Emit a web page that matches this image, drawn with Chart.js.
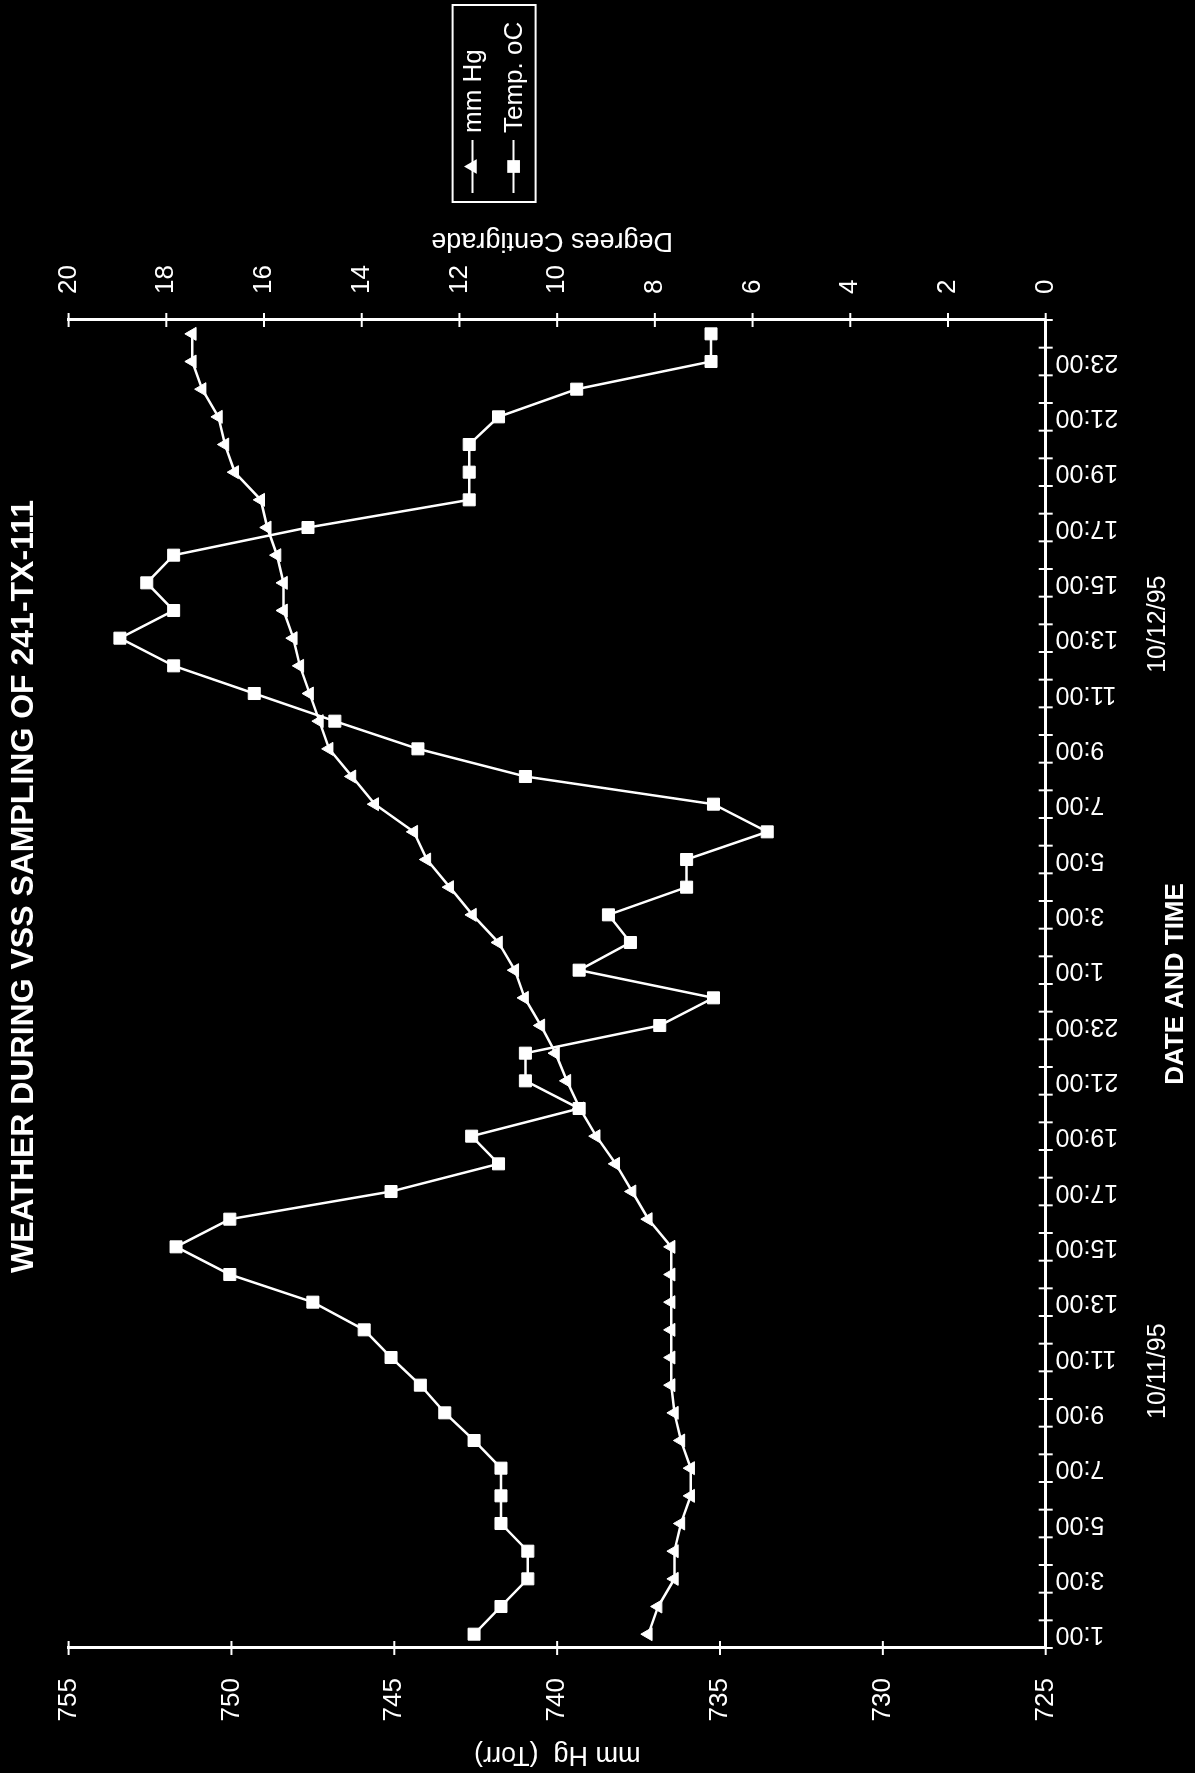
<!DOCTYPE html>
<html>
<head>
<meta charset="utf-8">
<script src="https://cdn.jsdelivr.net/npm/chart.js@4.4.0/dist/chart.umd.min.js"></script>
<style>
html, body { margin:0; padding:0; background:#000; width:1195px; height:1773px; overflow:hidden; }
#wrap { position:absolute; left:0; top:0; width:1773px; height:1195px; transform-origin:0 0; transform:translate(0px,1773px) rotate(-90deg); }
canvas { display:block; }
</style>
</head>
<body>
<div id="wrap"><canvas id="c" width="1773" height="1195"></canvas></div>
<script>
// ---- data ----
const timeLabels = [
  '1:00','2:00','3:00','4:00','5:00','6:00','7:00','8:00','9:00','10:00','11:00','12:00',
  '13:00','14:00','15:00','16:00','17:00','18:00','19:00','20:00','21:00','22:00','23:00','24:00',
  '1:00','2:00','3:00','4:00','5:00','6:00','7:00','8:00','9:00','10:00','11:00','12:00',
  '13:00','14:00','15:00','16:00','17:00','18:00','19:00','20:00','21:00','22:00','23:00','24:00'
];
const dateLabels = ['10/11/95', '10/12/95'];
const dateLabelIndex = [9, 36];
const pressureTicks = [725, 730, 735, 740, 745, 750, 755];
const tempTicks = [0, 2, 4, 6, 8, 10, 12, 14, 16, 18, 20];

const mmHg = [
  737.2, 736.9, 736.4, 736.4, 736.2, 735.9, 735.9, 736.2, 736.4, 736.5, 736.5, 736.5,
  736.5, 736.5, 736.5, 737.2, 737.7, 738.2, 738.8, 739.3, 739.7, 740.05, 740.5, 741.0,
  741.3, 741.8, 742.6, 743.3, 744.0, 744.4, 745.6, 746.3, 747.0, 747.3, 747.6, 747.9,
  748.1, 748.4, 748.4, 748.6, 748.9, 749.1, 749.9, 750.2, 750.4, 750.9, 751.2, 751.2
];
const tempC = [
  11.7, 11.15, 10.6, 10.6, 11.15, 11.15, 11.15, 11.7, 12.3, 12.8, 13.4, 13.95,
  15.0, 16.7, 17.8, 16.7, 13.4, 11.2, 11.75, 9.55, 10.65, 10.65, 7.9, 6.8,
  9.55, 8.5, 8.95, 7.35, 7.35, 5.7, 6.8, 10.65, 12.85, 14.55, 16.2, 17.85,
  18.95, 17.85, 18.4, 17.85, 15.1, 11.8, 11.8, 11.8, 11.2, 9.6, 6.85, 6.85
];

const seriesNames = ['mm Hg', 'Temp. oC'];
const chartTitle = 'WEATHER DURING VSS SAMPLING OF 241-TX-111';
const xTitle = 'DATE AND TIME';
const yTitle = 'mm Hg  (Torr)';
const y1Title = 'Degrees Centigrade';

// ---- helpers ----
const FONT = "'Liberation Sans', Arial, Helvetica, sans-serif";
const WHITE = '#ffffff';
const dateRow = timeLabels.map((_, i) => {
  const k = dateLabelIndex.indexOf(i);
  return k >= 0 ? dateLabels[k] : '';
});

function markerPath(ctx, style, x, y, r) {
  ctx.beginPath();
  if (style === 'triangle') {
    ctx.moveTo(x, y - r);
    ctx.lineTo(x + r * Math.sin(2 * Math.PI / 3), y - r * Math.cos(2 * Math.PI / 3));
    ctx.lineTo(x + r * Math.sin(4 * Math.PI / 3), y - r * Math.cos(4 * Math.PI / 3));
    ctx.closePath();
  } else {
    const s = r * Math.SQRT1_2;
    ctx.rect(x - s, y - s, 2 * s, 2 * s);
  }
}

const decor = {
  id: 'decor',
  afterDraw(chart) {
    const {ctx, chartArea: ca, scales} = chart;
    ctx.save();
    ctx.strokeStyle = WHITE;
    ctx.fillStyle = WHITE;
    ctx.lineWidth = 2;
    // crossing tick marks
    const xs = scales.x;
    for (let i = 0; i <= timeLabels.length; i++) {
      const p = xs.getPixelForValue(i - 0.5);
      ctx.beginPath(); ctx.moveTo(p, ca.bottom - 7); ctx.lineTo(p, ca.bottom + 7); ctx.stroke();
    }
    scales.y.ticks.forEach(t => {
      const p = scales.y.getPixelForValue(t.value);
      ctx.beginPath(); ctx.moveTo(ca.left - 7, p); ctx.lineTo(ca.left + 7, p); ctx.stroke();
    });
    scales.y1.ticks.forEach(t => {
      const p = scales.y1.getPixelForValue(t.value);
      ctx.beginPath(); ctx.moveTo(ca.right - 7, p); ctx.lineTo(ca.right + 7, p); ctx.stroke();
    });
    // right axis title (reads bottom-to-top like the left one)
    ctx.save();
    ctx.translate(ca.right + 80, (ca.top + ca.bottom) / 2 - 5);
    ctx.rotate(-Math.PI / 2);
    ctx.font = '27px ' + FONT;
    ctx.textAlign = 'center';
    ctx.textBaseline = 'middle';
    ctx.fillText(y1Title, 0, 0);
    ctx.restore();
    // legend
    const L = ca.right + 118, R = ca.right + 315, T = ca.top + 384, B = ca.top + 467;
    ctx.lineWidth = 2;
    ctx.strokeRect(L, T, R - L, B - T);
    const rows = [ca.top + 404, ca.top + 445];
    const styles = ['triangle', 'rect'];
    const radii = [8.5, 9];
    ctx.font = '26px ' + FONT;
    ctx.textAlign = 'left';
    ctx.textBaseline = 'middle';
    rows.forEach((ry, k) => {
      ctx.lineWidth = 2;
      ctx.beginPath(); ctx.moveTo(L + 9, ry); ctx.lineTo(L + 62, ry); ctx.stroke();
      markerPath(ctx, styles[k], L + 35.5, ry, radii[k]);
      ctx.fill();
      ctx.fillText(seriesNames[k], L + 69, ry + 1);
    });
    ctx.restore();
  }
};

new Chart(document.getElementById('c').getContext('2d'), {
  type: 'line',
  data: {
    labels: timeLabels,
    datasets: [
      {
        label: seriesNames[0], data: mmHg, yAxisID: 'y', xAxisID: 'x',
        borderColor: WHITE, backgroundColor: WHITE, borderWidth: 2.5, tension: 0,
        pointStyle: 'triangle', pointRadius: 7.5, pointBorderWidth: 1,
        pointBackgroundColor: WHITE, pointBorderColor: WHITE
      },
      {
        label: seriesNames[1], data: tempC, yAxisID: 'y1', xAxisID: 'x',
        borderColor: WHITE, backgroundColor: WHITE, borderWidth: 2.5, tension: 0,
        pointStyle: 'rect', pointRadius: 8.5, pointBorderWidth: 1,
        pointBackgroundColor: WHITE, pointBorderColor: WHITE
      }
    ]
  },
  options: {
    responsive: false,
    animation: false,
    devicePixelRatio: 1,
    layout: { padding: 0 },
    plugins: {
      legend: { display: false },
      tooltip: { enabled: false },
      title: {
        display: true, text: chartTitle, color: WHITE,
        font: { family: FONT, size: 32, weight: 'bold' },
        padding: { top: 5, bottom: 25.2 }
      }
    },
    scales: {
      x: {
        type: 'category', position: 'bottom', offset: true, weight: 0,
        grid: { display: false, offset: true },
        border: { display: true, color: WHITE, width: 3 },
        ticks: {
          color: WHITE, autoSkip: false, minRotation: 90, maxRotation: 90, padding: 2,
          font: { family: FONT, size: 25 },
          callback: (v, i) => (i % 2 === 0 ? timeLabels[i] : '')
        },
        afterFit: s => { s.height = 88; }
      },
      x2: {
        type: 'category', position: 'bottom', labels: dateRow, offset: true, weight: 1,
        grid: { display: false },
        border: { display: false },
        ticks: {
          color: WHITE, autoSkip: false, minRotation: 0, maxRotation: 0, padding: 1, labelOffset: 14,
          font: { family: FONT, size: 25 }
        },
        title: {
          display: true, text: xTitle, color: WHITE,
          font: { family: FONT, size: 26, weight: 'bold' },
          padding: { top: 0, bottom: 4 }
        },
        afterFit: s => { s.height = 61.3; }
      },
      y: {
        position: 'left', min: 725, max: 755,
        grid: { display: false },
        border: { display: true, color: WHITE, width: 3 },
        ticks: { color: WHITE, padding: 22, font: { family: FONT, size: 26 } },
        afterBuildTicks: s => { s.ticks = pressureTicks.map(v => ({ value: v })); },
        title: {
          display: true, text: yTitle, color: WHITE,
          font: { family: FONT, size: 27 }, padding: { top: 2, bottom: 0 }
        },
        afterFit: s => { s.width = 125; }
      },
      y1: {
        position: 'right', min: 0, max: 20,
        grid: { display: false },
        border: { display: true, color: WHITE, width: 3 },
        ticks: { color: WHITE, padding: 18, font: { family: FONT, size: 26 } },
        afterBuildTicks: s => { s.ticks = tempTicks.map(v => ({ value: v })); },
        afterFit: s => { s.width = 320; }
      }
    }
  },
  plugins: [decor]
});
</script>
</body>
</html>
